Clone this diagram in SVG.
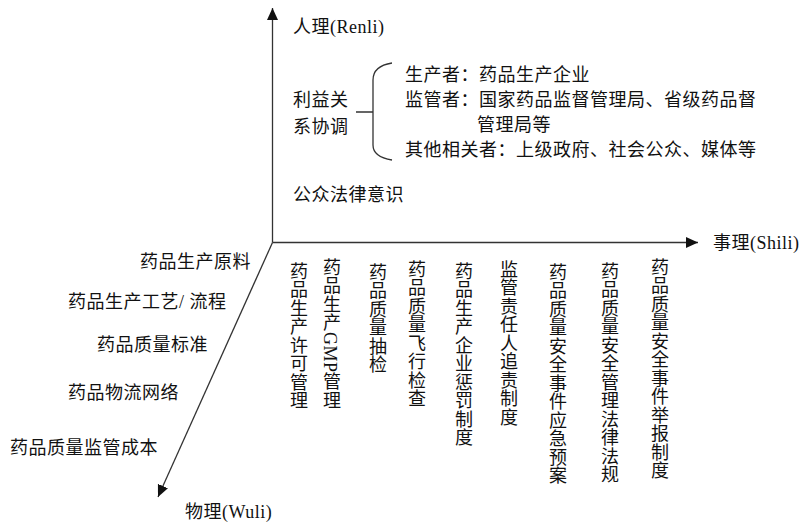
<svg xmlns="http://www.w3.org/2000/svg" width="799" height="523" viewBox="0 0 799 523">
<style>
text{font-family:"Liberation Serif","Noto Sans CJK SC",serif;font-size:18px;fill:#111;letter-spacing:0.5px}
.v{writing-mode:vertical-rl}
.ax{stroke:#333;stroke-width:1.3;fill:none}
</style>
<defs>
<marker id="arr" markerUnits="userSpaceOnUse" markerWidth="14" markerHeight="12" refX="12" refY="5.5" orient="auto">
<path d="M0,0 L12,5.5 L0,11 Z" fill="#111"/>
</marker>
</defs>
<rect width="799" height="523" fill="#fff"/>
<g id="connectors">
<line class="ax" x1="272.5" y1="242.5" x2="272.5" y2="8" marker-end="url(#arr)"/>
<line class="ax" x1="272.5" y1="242.5" x2="698" y2="242.5" marker-end="url(#arr)"/>
<line class="ax" x1="272.5" y1="242.5" x2="158" y2="497" marker-end="url(#arr)"/>
<path class="ax" d="M392,63 Q373,66 373,80 L373,145 Q373,157 392,160 M356,112 L373,112"/>
</g>
<g id="axis-labels">
<text x="293" y="33">人理(Renli)</text>
<text x="713" y="249">事理(Shili)</text>
<text x="185" y="518">物理(Wuli)</text>
</g>
<g id="renli">
<text x="293" y="106">利益关</text>
<text x="293" y="133">系协调</text>
<text x="405" y="81">生产者：药品生产企业</text>
<text x="405" y="106">监管者：国家药品监督管理局、省级药品督</text>
<text x="477" y="131">管理局等</text>
<text x="405" y="156">其他相关者：上级政府、社会公众、媒体等</text>
<text x="293" y="201">公众法律意识</text>
</g>
<g id="wuli">
<text x="140" y="268">药品生产原料</text>
<text x="68" y="308">药品生产工艺/ 流程</text>
<text x="97" y="351">药品质量标准</text>
<text x="68" y="399">药品物流网络</text>
<text x="10" y="454">药品质量监管成本</text>
</g>
<g id="shili">
<text class="v" x="297" y="262">药品生产许可管理</text>
<text class="v" x="330" y="258">药品生产GMP管理</text>
<text class="v" x="376" y="263">药品质量抽检</text>
<text class="v" x="415" y="260">药品质量飞行检查</text>
<text class="v" x="462" y="262">药品生产企业惩罚制度</text>
<text class="v" x="507" y="260">监管责任人追责制度</text>
<text class="v" x="556" y="263">药品质量安全事件应急预案</text>
<text class="v" x="608" y="262">药品质量安全管理法律法规</text>
<text class="v" x="658" y="258">药品质量安全事件举报制度</text>
</g>
</svg>
